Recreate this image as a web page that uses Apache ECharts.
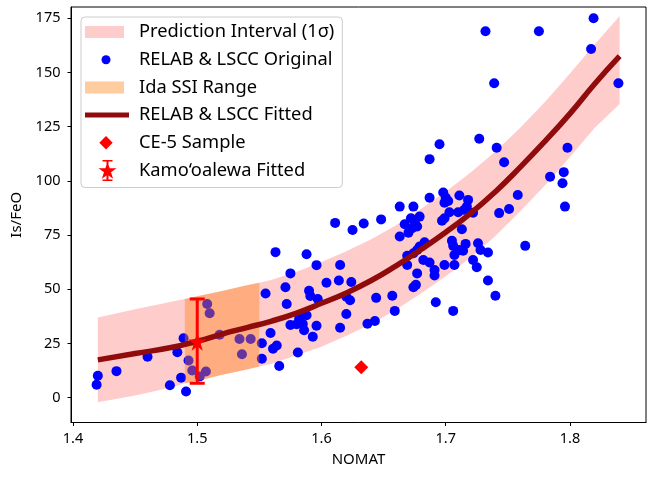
<!DOCTYPE html>
<html>
<head>
<meta charset="utf-8">
<script src="https://cdn.jsdelivr.net/npm/echarts@6/dist/echarts.min.js"></script>
<style>
html,body{margin:0;padding:0;background:#fff;}
#c{width:650px;height:477px;}
</style>
</head>
<body>
<div id="c"></div>
<script>
// ---- data ----
const origX = [1.419,1.420,1.435,1.460,1.478,1.487,1.491,1.484,1.489,1.493,1.496,1.502,1.507,1.508,1.510,1.518,1.534,1.543,1.536,1.552,1.552,1.555,1.559,1.561,1.564,1.566,1.563,
  1.571,1.572,1.575,1.575,1.580,1.582,1.583,1.585,1.586,1.581,1.588,1.588,1.590,1.591,1.593,1.596,1.597,1.596,1.604,1.611,1.614,1.615,1.615,1.620,1.620,1.623,1.624,1.625,1.634,1.637,1.643,1.644,1.648,1.657,1.659,
  1.663,1.674,1.663,1.670,1.667,1.672,1.675,1.673,1.677,1.679,1.669,1.669,1.674,1.677,1.679,1.683,1.682,1.687,1.691,1.691,1.677,1.674,1.676,
  1.687,1.687,1.695,1.698,1.700,1.702,1.699,1.697,1.699,1.703,1.710,1.711,1.715,1.717,1.718,1.722,1.713,
  1.699,1.707,1.705,1.706,1.707,1.711,1.716,1.714,1.726,1.728,1.722,1.725,1.734,1.734,1.740,1.692,1.706,
  1.727,1.741,1.747,1.758,1.751,1.743,1.764,1.784,1.795,1.794,1.796,1.798,1.732,1.775,1.819,1.817,1.739,1.839];
const origY = [5.9,10.1,12.2,18.8,5.7,9.2,2.8,20.9,27.4,17.1,12.5,9.7,12.0,43.2,38.9,29.0,27.0,27.0,20.0,25.1,17.9,48.0,29.8,22.5,24.0,14.6,67.1,
  50.9,43.2,57.3,33.5,33.8,36.2,38.1,33.9,31.1,20.8,66.1,38.0,49.3,46.9,28.1,33.1,45.5,61.1,53.0,80.6,54.0,61.2,32.2,38.6,46.5,44.9,53.3,77.3,80.3,34.1,35.3,46.0,82.2,47.0,40.0,
  88.1,88.1,74.3,76.1,80.0,82.7,81.2,78.1,78.9,83.5,65.4,61.2,66.6,68.1,69.7,71.7,63.5,62.3,58.9,56.3,57.3,50.9,52.0,
  92.2,110.0,116.9,94.6,92.3,90.7,89.9,81.6,82.7,85.5,85.5,93.2,86.6,88.1,91.2,85.3,77.7,
  61.2,61.2,72.3,70.0,65.8,68.1,70.9,67.7,71.2,68.1,63.5,60.1,66.9,54.0,47.0,44.0,40.0,
  119.4,115.3,108.6,93.5,87.0,85.1,70.0,101.9,104.0,98.9,88.1,115.3,169.0,169.0,175.0,160.8,145.0,145.0];

const fitX = [1.42,1.45,1.48,1.50,1.52,1.54,1.56,1.58,1.60,1.62,1.64,1.66,1.68,1.70,1.72,1.74,1.76,1.78,1.80,1.82,1.84];
const fitY = [17.4,20.3,23.2,26.0,29.3,32.3,35.3,39.0,43.5,48.3,54.0,60.8,68.3,76.3,85.0,95.0,106.3,118.3,131.0,144.8,157.5];

const bandX     = [1.42,1.45,1.48,1.49,1.50,1.52,1.54,1.55,1.56,1.58,1.60,1.62,1.64,1.66,1.68,1.70,1.72,1.74,1.76,1.78,1.80,1.82,1.84];
const bandUpper = [37.0,40.7,44.3,45.5,46.7,49.2,51.8,53.0,54.4,58.0,62.5,67.5,73.0,79.5,87.0,95.0,103.8,113.5,124.5,136.5,149.5,163.0,176.0];
const bandLower = [-2.2,1.0,4.8,6.6,7.7,10.5,13.0,14.3,15.6,19.5,23.5,28.5,34.0,40.5,48.0,56.0,64.5,74.5,86.0,98.0,111.0,124.5,135.5];

const idaRange = [1.49, 1.55];

const ce5X = [1.632];
const ce5Y = [14.0];

const kamoX = [1.5];
const kamoY = [25.8];
const kamoLow = [6.6];
const kamoHigh = [45.5];

const xTicks = [1.4, 1.5, 1.6, 1.7, 1.8];
const yTicks = [0, 25, 50, 75, 100, 125, 150, 175];

const seriesNames = [
  'Prediction Interval (1\u03c3)',
  'RELAB & LSCC Original',
  'Ida SSI Range',
  'RELAB & LSCC Fitted',
  'CE-5 Sample',
  'Kamo\u2018oalewa Fitted'
];

// ---- styles ----
const FONT = 'Noto Sans';
const PINK = 'rgba(255,0,0,0.2)';
const ORANGE = 'rgba(255,127,14,0.4)';
const BLUE = '#0000ff';
const DARKRED = '#900c0c';
const RED = '#ff0000';

const STAR = 'path://M100,0L122.45,69.1L195.1,69.1L136.3,111.8L158.8,180.9L100,138.2L41.2,180.9L63.7,111.8L4.9,69.1L77.55,69.1Z';
const BOX = 'M0,0L0,0M49,22L49,22';
const icons = [
  'path://' + BOX + 'M0,5L39,5L39,17L0,17Z',
  'path://' + BOX + 'M16.5,11A4.5,4.5 0 1 1 25.5,11A4.5,4.5 0 1 1 16.5,11Z',
  'path://' + BOX + 'M0,5L39,5L39,17L0,17Z',
  'path://' + BOX + 'M0,8.5L44,8.5L44,13.5L0,13.5Z',
  'path://' + BOX + 'M21,4.3L27.7,11L21,17.7L14.3,11Z',
  'path://' + BOX + 'M21.5,0.5L23.5,0.5L23.5,21.5L21.5,21.5Z' +
    'M17.5,0.5L27.5,0.5L27.5,2L17.5,2Z' +
    'M17.5,20L27.5,20L27.5,21.5L17.5,21.5Z' +
    'M22.5,2.5L24.7,8.8L31.5,8.8L26,12.8L28.1,19.3L22.5,15.3L16.9,19.3L19,12.8L13.5,8.8L20.3,8.8Z'
];

function polygonBetween(xs, up, lo, api, keep) {
  const pts = [];
  const idx = [];
  for (let i = 0; i < xs.length; i++) if (keep(xs[i])) idx.push(i);
  idx.forEach(i => pts.push(api.coord([xs[i], up[i]])));
  idx.slice().reverse().forEach(i => pts.push(api.coord([xs[i], lo[i]])));
  return pts;
}

const bandData = bandX.map((x, i) => [x, bandLower[i], bandUpper[i]]);

const chart = echarts.init(document.getElementById('c'));
chart.setOption({
  animation: false,
  backgroundColor: '#ffffff',
  textStyle: { fontFamily: FONT },
  grid: {
    left: 71, right: 4, top: 7, bottom: 54.5,
    show: true, borderColor: '#000', borderWidth: 1, backgroundColor: 'transparent'
  },
  legend: {
    left: 81, top: 17,
    orient: 'vertical',
    selectedMode: false,
    itemWidth: 49, itemHeight: 22, itemGap: 5.7,
    padding: [4, 8, 6, 4],
    backgroundColor: 'rgba(255,255,255,0.8)',
    borderColor: '#cccccc', borderWidth: 1, borderRadius: 4,
    itemStyle: { borderWidth: 0 },
    textStyle: { fontFamily: FONT, fontSize: 18.3, color: '#000', lineHeight: 22 },
    data: seriesNames.map((n, i) => ({ name: n, icon: icons[i] }))
  },
  xAxis: {
    type: 'value',
    min: 1.3984, max: 1.8612,
    name: 'NOMAT', nameLocation: 'middle', nameGap: 30,
    nameTextStyle: { fontFamily: FONT, fontSize: 15, color: '#000' },
    axisLine: { onZero: false, lineStyle: { color: '#000', width: 1 } },
    axisTick: { show: true, inside: false, length: 3.5, customValues: xTicks, lineStyle: { color: '#000' } },
    axisLabel: { customValues: xTicks, margin: 9, fontFamily: FONT, fontSize: 14.5, color: '#000',
      formatter: v => v.toFixed(1) },
    splitLine: { show: false }
  },
  yAxis: {
    type: 'value',
    min: -11.5, max: 180.2,
    name: 'Is/FeO', nameLocation: 'middle', nameGap: 43, nameRotate: 90,
    nameTextStyle: { fontFamily: FONT, fontSize: 15, color: '#000' },
    axisLine: { show: true, onZero: false, lineStyle: { color: '#000', width: 1 } },
    axisTick: { show: true, inside: false, length: 3.5, customValues: yTicks, lineStyle: { color: '#000' } },
    axisLabel: { customValues: yTicks, margin: 10.5, fontFamily: FONT, fontSize: 14.5, color: '#000' },
    splitLine: { show: false }
  },
  series: [
    {
      name: seriesNames[0], type: 'custom', z: 1, silent: true,
      itemStyle: { color: PINK },
      encode: { x: 0, y: [1, 2] },
      data: bandData,
      renderItem: (params, api) => {
        if (params.dataIndex !== 0) return null;
        return { type: 'polygon', shape: { points: polygonBetween(bandX, bandUpper, bandLower, api, () => true) },
          style: { fill: PINK } };
      }
    },
    {
      name: seriesNames[1], type: 'scatter', z: 2,
      symbol: 'circle', symbolSize: 10,
      itemStyle: { color: BLUE, opacity: 1 },
      data: origX.map((x, i) => [x, origY[i]])
    },
    {
      name: seriesNames[2], type: 'custom', z: 3, silent: true,
      itemStyle: { color: ORANGE },
      encode: { x: 0, y: [1, 2] },
      data: bandData,
      renderItem: (params, api) => {
        if (params.dataIndex !== 0) return null;
        return { type: 'polygon',
          shape: { points: polygonBetween(bandX, bandUpper, bandLower, api, x => x >= idaRange[0] - 1e-9 && x <= idaRange[1] + 1e-9) },
          style: { fill: ORANGE } };
      }
    },
    {
      name: seriesNames[3], type: 'line', z: 4,
      smooth: true, showSymbol: false, symbol: 'none',
      color: DARKRED,
      lineStyle: { color: DARKRED, width: 5.5 },
      data: fitX.map((x, i) => [x, fitY[i]])
    },
    {
      name: seriesNames[4], type: 'scatter', z: 5,
      symbol: 'diamond', symbolSize: 14,
      itemStyle: { color: RED, opacity: 1 },
      data: ce5X.map((x, i) => [x, ce5Y[i]])
    },
    {
      name: seriesNames[5], type: 'custom', z: 6, silent: true,
      itemStyle: { color: RED },
      encode: { x: 0, y: [2, 3] },
      data: kamoX.map((x, i) => [x, kamoY[i], kamoLow[i], kamoHigh[i]]),
      renderItem: (params, api) => {
        const x = api.value(0);
        const top = api.coord([x, api.value(3)]);
        const bot = api.coord([x, api.value(2)]);
        const cw = 7.5;
        const st = { stroke: RED, lineWidth: 3 };
        return { type: 'group', children: [
          { type: 'line', shape: { x1: top[0], y1: top[1], x2: bot[0], y2: bot[1] }, style: st },
          { type: 'line', shape: { x1: top[0] - cw, y1: top[1], x2: top[0] + cw, y2: top[1] }, style: st },
          { type: 'line', shape: { x1: bot[0] - cw, y1: bot[1], x2: bot[0] + cw, y2: bot[1] }, style: st }
        ] };
      }
    },
    {
      name: seriesNames[5], type: 'scatter', z: 7,
      symbol: STAR, symbolSize: 18,
      itemStyle: { color: RED, opacity: 1 },
      data: kamoX.map((x, i) => [x, kamoY[i]])
    }
  ]
});
</script>
</body>
</html>
